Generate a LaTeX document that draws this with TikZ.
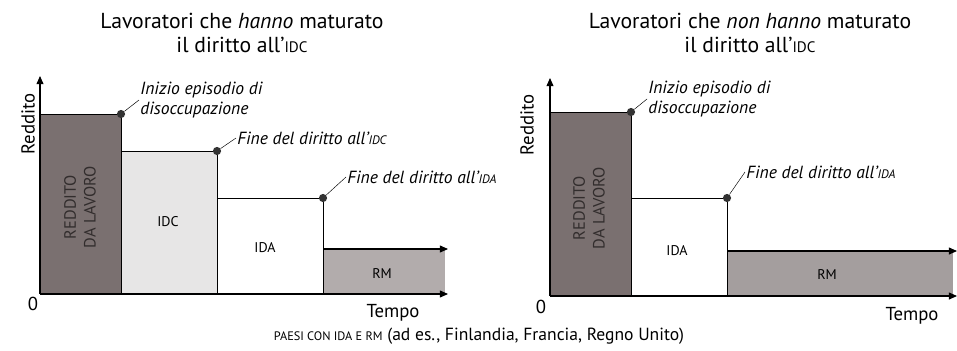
\documentclass[tikz,border=0pt]{standalone}
\usepackage{fontspec}
\setmainfont{PT Sans}
\usetikzlibrary{arrows.meta,positioning}

\definecolor{lavoro}{RGB}{122,112,112}
\definecolor{sussidio}{RGB}{231,230,230}
\definecolor{minimo}{RGB}{178,172,172}
\definecolor{testoscuro}{RGB}{50,45,45}

\newcommand{\sigla}[1]{{\fontsize{0.7em}{1em}\selectfont #1}}

\tikzset{
  asse/.style={line width=0.9pt, -{Triangle[length=7pt,width=6pt]}},
  bordo/.style={line width=0.8pt},
  punto/.style={circle, fill=black!80, inner sep=0pt, minimum size=7pt},
  richiamo/.style={line width=0.4pt},
  nota/.style={font=\fontsize{15}{17}\selectfont\itshape, align=left, inner sep=1pt},
  titolo/.style={font=\fontsize{18.5}{21}\selectfont, align=center},
  etic/.style={font=\fontsize{12}{14}\selectfont},
  assetxt/.style={font=\fontsize{16}{18}\selectfont},
  lavorotxt/.style={font=\fontsize{14}{17}\selectfont, text=testoscuro, rotate=90, align=center},
}

\begin{document}
\begin{tikzpicture}[x=0.03cm, y=-0.03cm]
  \useasboundingbox (0,0) rectangle (957,350);

  %pannello di sinistra: con diritto all'IDC
  \coordinate (OrigA) at (40,294);
  \coordinate (YTopA) at (40,76);
  \coordinate (XEndA) at (448,294);
  \coordinate (RmTopA) at (323,249);
  \coordinate (RmEndA) at (448,249);

  \fill[lavoro] (40,294) rectangle (121,114);
  \fill[sussidio] (121,294) rectangle (217,151);
  \fill[minimo] (323,294) rectangle (445,249);

  \draw[bordo] (40,114) -- (121,114) -- (121,294)
    (121,151) -- (217,151) -- (217,294)
    (217,198) -- (323,198) -- (323,294);
  \draw[asse] (RmTopA) -- (RmEndA);
  \draw[asse] (OrigA) -- (YTopA);
  \draw[asse] (OrigA) -- (XEndA);

  \node[punto] (InizioA) at (121,114) {};
  \node[punto] (FineIdcA) at (217,151) {};
  \node[punto] (FineIdaA) at (323,198) {};

  \node[nota, anchor=west] (NotaInizioA) at (139,100) {Inizio episodio di\\disoccupazione};
  \node[nota, anchor=west] (NotaIdcA) at (236,138) {Fine del diritto all'\sigla{IDC}};
  \node[nota, anchor=west] (NotaIdaA) at (346,177) {Fine del diritto all'\sigla{IDA}};
  \draw[richiamo] (InizioA) -- (NotaInizioA.west);
  \draw[richiamo] (FineIdcA) -- (NotaIdcA.west);
  \draw[richiamo] (FineIdaA) -- (NotaIdaA.west);

  \node[assetxt, rotate=90] (RedditoA) at (28,124) {Reddito};
  \node[assetxt] (ZeroA) at (33,304) {0};
  \node[assetxt] (TempoA) at (393,313) {Tempo};

  \node[lavorotxt] (LavoroA) at (80,207) {REDDITO\\DA LAVORO};
  \node[etic] (IdcA) at (168,222) {IDC};
  \node[etic] (IdaA) at (265,248) {IDA};
  \node[etic] (RmA) at (382,274) {RM};

  \node[titolo] (TitoloA) at (242,33) {Lavoratori che \textit{hanno} maturato\\il diritto all'\sigla{IDC}};

  %pannello di destra: senza diritto all'IDC
  \coordinate (OrigB) at (550,296);
  \coordinate (YTopB) at (550,78);
  \coordinate (XEndB) at (957,296);
  \coordinate (RmTopB) at (727,251);
  \coordinate (RmEndB) at (957,251);

  \fill[lavoro] (550,296) rectangle (631,112);
  \fill[minimo!92!black] (727,296) rectangle (953,251);

  \draw[bordo] (550,112) -- (631,112) -- (631,296)
    (631,198) -- (727,198) -- (727,296);
  \draw[asse] (RmTopB) -- (RmEndB);
  \draw[asse] (OrigB) -- (YTopB);
  \draw[asse] (OrigB) -- (XEndB);

  \node[punto] (InizioB) at (631,112) {};
  \node[punto] (FineIdaB) at (727,198) {};

  \node[nota, anchor=west] (NotaInizioB) at (647,99) {Inizio episodio di\\disoccupazione};
  \node[nota, anchor=west] (NotaIdaB) at (745,172) {Fine del diritto all'\sigla{IDA}};
  \draw[richiamo] (InizioB) -- (NotaInizioB.west);
  \draw[richiamo] (FineIdaB) -- (NotaIdaB.west);

  \node[assetxt, rotate=90] (RedditoB) at (527,125) {Reddito};
  \node[assetxt] (ZeroB) at (541,307) {0};
  \node[assetxt] (TempoB) at (912,316) {Tempo};

  \node[lavorotxt] (LavoroB) at (589,208) {REDDITO\\DA LAVORO};
  \node[etic] (IdaB) at (677,251) {IDA};
  \node[etic] (RmB) at (827,275) {RM};

  \node[titolo] (TitoloB) at (750,33) {Lavoratori che \textit{non hanno} maturato\\il diritto all'\sigla{IDC}};

  %didascalia
  \node[font=\fontsize{15}{17}\selectfont] (Didascalia) at (479,336) {\sigla{PAESI CON IDA E RM} (ad es., Finlandia, Francia, Regno Unito)};
\end{tikzpicture}
\end{document}
